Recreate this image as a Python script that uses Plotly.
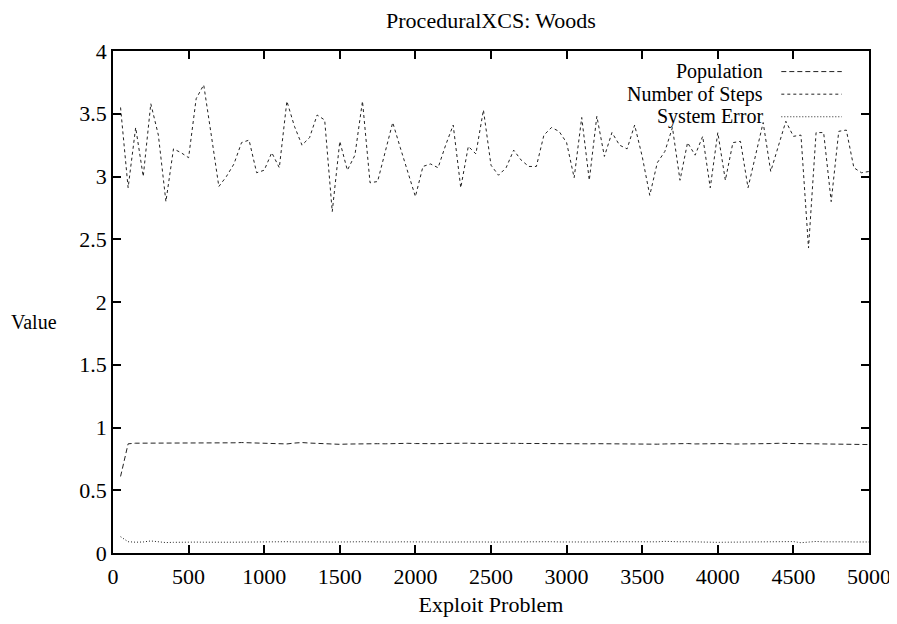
import plotly.graph_objects as go

x_problem = list(range(50, 5001, 50))

num_steps = [
    3.55, 2.91, 3.39, 3.00, 3.58, 3.33, 2.80, 3.22, 3.19, 3.15,
    3.62, 3.73, 3.33, 2.92, 3.00, 3.10, 3.27, 3.29, 3.03, 3.05,
    3.19, 3.07, 3.60, 3.40, 3.25, 3.31, 3.49, 3.45, 2.72, 3.28,
    3.05, 3.17, 3.60, 2.95, 2.96, 3.19, 3.43, 3.23, 3.04, 2.84,
    3.08, 3.10, 3.07, 3.25, 3.41, 2.91, 3.24, 3.18, 3.53, 3.09,
    3.01, 3.07, 3.21, 3.13, 3.08, 3.08, 3.33, 3.39, 3.36, 3.27,
    2.99, 3.47, 2.97, 3.48, 3.16, 3.35, 3.25, 3.22, 3.41, 3.16,
    2.85, 3.11, 3.20, 3.39, 2.97, 3.27, 3.17, 3.32, 2.91, 3.35,
    2.97, 3.27, 3.28, 2.91, 3.17, 3.43, 3.04, 3.24, 3.44, 3.32,
    3.33, 2.43, 3.35, 3.35, 2.80, 3.36, 3.37, 3.07, 3.03, 3.04,
]

population = [
    0.61, 0.870, 0.875, 0.875, 0.875, 0.874, 0.873, 0.873, 0.875, 0.874,
    0.874, 0.875, 0.875, 0.874, 0.876, 0.878, 0.880, 0.878, 0.876, 0.870,
    0.868, 0.868, 0.869, 0.876, 0.880, 0.876, 0.873, 0.871, 0.869, 0.866,
    0.868, 0.870, 0.872, 0.873, 0.871, 0.870, 0.872, 0.873, 0.874, 0.872,
    0.870, 0.869, 0.871, 0.873, 0.875, 0.876, 0.875, 0.873, 0.874, 0.876,
    0.877, 0.876, 0.874, 0.873, 0.872, 0.871, 0.872, 0.873, 0.871, 0.869,
    0.868, 0.869, 0.870, 0.871, 0.870, 0.869, 0.868, 0.869, 0.868, 0.866,
    0.866, 0.867, 0.869, 0.871, 0.874, 0.872, 0.869, 0.871, 0.872, 0.873,
    0.872, 0.868, 0.868, 0.869, 0.870, 0.871, 0.872, 0.874, 0.873, 0.870,
    0.868, 0.869, 0.870, 0.869, 0.868, 0.868, 0.867, 0.864, 0.862, 0.864,
]

system_error = [
    0.130, 0.090, 0.086, 0.088, 0.096, 0.088, 0.083, 0.085, 0.087, 0.088,
    0.087, 0.086, 0.088, 0.087, 0.086, 0.086, 0.087, 0.086, 0.085, 0.086,
    0.088, 0.094, 0.090, 0.088, 0.089, 0.088, 0.087, 0.088, 0.087, 0.086,
    0.088, 0.089, 0.090, 0.088, 0.087, 0.086, 0.087, 0.089, 0.088, 0.087,
    0.086, 0.088, 0.089, 0.088, 0.087, 0.088, 0.090, 0.089, 0.088, 0.087,
    0.088, 0.089, 0.090, 0.088, 0.087, 0.088, 0.089, 0.090, 0.088, 0.087,
    0.086, 0.088, 0.089, 0.088, 0.090, 0.089, 0.088, 0.087, 0.086, 0.088,
    0.086, 0.089, 0.093, 0.090, 0.089, 0.090, 0.088, 0.084, 0.082, 0.085,
    0.086, 0.087, 0.088, 0.089, 0.088, 0.087, 0.088, 0.089, 0.090, 0.091,
    0.082, 0.088, 0.092, 0.089, 0.087, 0.088, 0.089, 0.088, 0.087, 0.088,
]

series_names = ["Population", "Number of Steps", "System Error"]
series_dash = ["5px,3px", "3px,3px", "1px,2px"]
series_data = [population, num_steps, system_error]

FONT = "Liberation Serif"
FS = 22
LEG_FS = 20
fig = go.Figure()
for name, ys, dash in zip(series_names, series_data, series_dash):
    fig.add_trace(go.Scatter(
        x=x_problem, y=ys, mode="lines", name=name,
        line=dict(color="#222222", width=1, dash=dash),
        showlegend=False,
    ))

# gnuplot-style legend: right-aligned text with line sample on the right
legend_rows = [0.959, 0.914, 0.869]
for name, dash, yy in zip(series_names, series_dash, legend_rows):
    fig.add_annotation(
        text=name, xref="paper", yref="paper", x=0.862, y=yy,
        xanchor="right", yanchor="middle", showarrow=False,
        font=dict(family=FONT, size=LEG_FS, color="black"),
    )
    fig.add_shape(
        type="line", xref="paper", yref="paper",
        x0=0.884, x1=0.964, y0=yy, y1=yy,
        line=dict(color="#222222", width=1, dash=dash),
    )

fig.add_annotation(
    text="Value", xref="paper", yref="paper", x=-0.105, y=0.4605,
    xanchor="center", yanchor="middle", showarrow=False,
    font=dict(family=FONT, size=20, color="black"),
)

axis_common = dict(
    showline=True, linecolor="black", linewidth=1.5, mirror="ticks",
    ticks="inside", ticklen=8, tickwidth=1.5, tickcolor="black",
    showgrid=False, zeroline=False,
    tickfont=dict(family=FONT, size=FS, color="black"),
)

W, H = 889, 616
fig.update_layout(
    width=W, height=H,
    paper_bgcolor="white", plot_bgcolor="white",
    margin=dict(l=104.5, r=27.5, t=43.4, b=71, autoexpand=False),
    title=dict(text="ProceduralXCS: Woods", x=0.5, xref="paper",
               y=1 - 12.5 / H, yanchor="middle",
               font=dict(family=FONT, size=FS, color="black")),
    xaxis=dict(range=[0, 5000], dtick=500, tick0=0, ticklabelstandoff=3,
               title=dict(text="Exploit Problem", standoff=8,
                          font=dict(family=FONT, size=FS, color="black")),
               **axis_common),
    yaxis=dict(range=[0, 4], dtick=0.5, tick0=0, **axis_common),
)

fig.write_html("out.html")
